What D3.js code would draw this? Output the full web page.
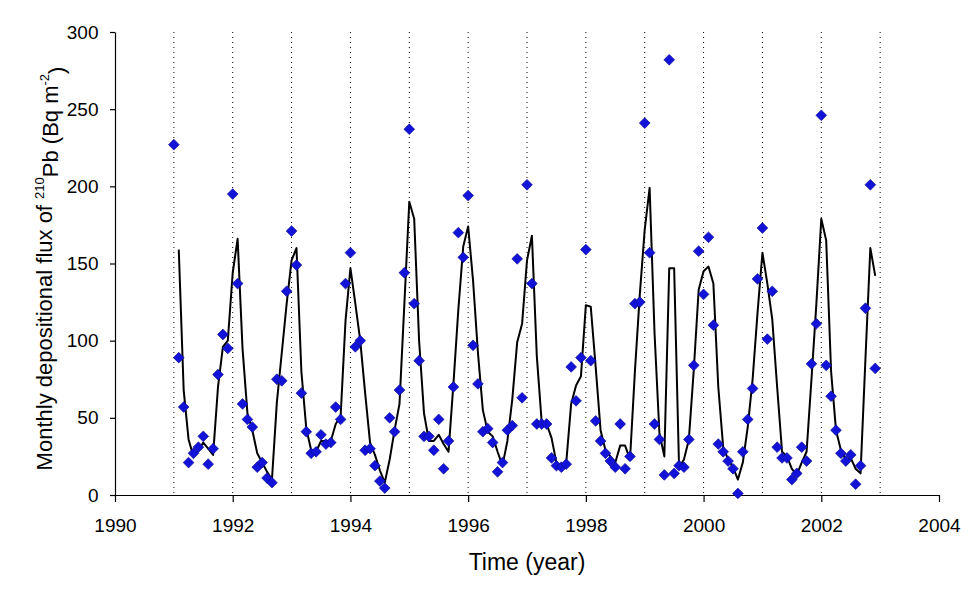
<!DOCTYPE html>
<html>
<head>
<meta charset="utf-8">
<script src="https://cdn.jsdelivr.net/npm/d3@7"></script>
<style>
  body { margin: 0; background: #fff; }
  text { font-family: "Liberation Sans", Arial, sans-serif; }
</style>
</head>
<body>
<div id="chart"></div>
<script>
// monthly samples start Jan 1991, one per month through Dec 2002
const startYear = 1991;

// measured monthly flux (diamonds), Jan..Dec per row
const measuredFlux = [
  227, 89, 57, 21, 27, 31, 38, 20, 30, 78, 104, 95,      // 1991
  195, 137, 59, 49, 44, 18, 21, 11, 8, 75, 74, 132,      // 1992
  171, 149, 66, 41, 27, 28, 39, 33, 34, 57, 49, 137,     // 1993
  157, 96, 100, 29, 30, 19, 9, 4.5, 50, 41, 68, 144,     // 1994
  237, 124, 87, 38, 38, 29, 49, 17, 35, 70, 170, 154,    // 1995
  194, 97, 72, 41, 43, 34, 15, 21, 42, 45, 153, 63,      // 1996
  201, 137, 46, 46, 46, 24, 19, 18, 20, 83, 61, 89,      // 1997
  159, 87, 48, 35, 27, 22, 18, 46, 17, 25, 124, 125,     // 1998
  241, 157, 46, 36, 13, 282, 14, 19, 18, 36, 84, 158,    // 1999
  130, 167, 110, 33, 28, 22, 17, 1, 28, 49, 69, 140,     // 2000
  173, 101, 132, 31, 24, 24, 10, 14, 31, 22, 85, 111,    // 2001
  246, 84, 64, 42, 27, 22, 26, 7, 19, 121, 201, 82       // 2002
];

// smoothed curve, starts Feb 1991
const smoothStart = 1;
const smoothFlux = [
  159, 68, 36, 25, 29, 34, 30, 26, 70, 96, 100,          // 1991 (Feb..Dec)
  144, 166, 95, 53, 42, 27, 21, 15, 10, 60, 92, 124,     // 1992
  152, 160, 80, 43, 29, 28, 35, 35, 35, 46, 51, 113,     // 1993
  147, 124, 100, 66, 34, 26, 16, 8, 23, 42, 59, 124,     // 1994
  190, 179, 100, 53, 35, 35, 39, 33, 28, 72, 120, 161,   // 1995
  174, 139, 92, 55, 41, 38, 28, 19, 35, 62, 99, 111,     // 1996
  152, 168, 90, 47, 46, 37, 21, 18, 21, 59, 71, 77,      // 1997
  123, 122, 83, 42, 29, 25, 21, 32, 32, 23, 80, 130,     // 1998
  172, 199, 105, 40, 25, 147, 147, 18, 23, 36, 81, 133,  // 1999
  145, 148, 137, 70, 31, 23, 18, 10, 21, 44, 75, 118,    // 2000
  157, 137, 114, 70, 28, 25, 17, 13, 21, 28, 75, 124,    // 2001
  179, 165, 80, 42, 29, 23, 24, 17, 14, 88, 160, 142     // 2002
];

const xTicks = [1990, 1992, 1994, 1996, 1998, 2000, 2002, 2004];
const yTicks = [0, 50, 100, 150, 200, 250, 300];
const gridYears = d3.range(1991, 2004);

const width = 979, height = 598;
const margin = { top: 32, right: 40, bottom: 103, left: 115 };

const svg = d3.select("#chart").append("svg")
  .attr("width", width)
  .attr("height", height);

const x = d3.scaleLinear().domain([1990, 2004]).range([margin.left, width - margin.right]);
const y = d3.scaleLinear().domain([0, 300]).range([height - margin.bottom, margin.top]);

const toYear = i => startYear + i / 12;

// dotted year lines
svg.append("g")
  .selectAll("line")
  .data(gridYears)
  .join("line")
  .attr("x1", d => x(d)).attr("x2", d => x(d))
  .attr("y1", y(300)).attr("y2", y(0))
  .attr("stroke", "#000")
  .attr("stroke-width", 1)
  .attr("stroke-dasharray", "1,4");

// axes
const xAxis = svg.append("g")
  .attr("transform", `translate(0,${y(0)})`)
  .call(d3.axisBottom(x).tickValues(xTicks).tickFormat(d3.format("d")).tickSize(7).tickSizeOuter(0));
const yAxis = svg.append("g")
  .attr("transform", `translate(${x(1990)},0)`)
  .call(d3.axisLeft(y).tickValues(yTicks).tickSize(5).tickSizeOuter(0));

[xAxis, yAxis].forEach(g => {
  g.select(".domain").attr("stroke", "#000").attr("stroke-width", 1.2);
  g.selectAll(".tick line").attr("stroke", "#000").attr("stroke-width", 1.2);
  g.selectAll(".tick text")
    .attr("fill", "#000")
    .style("font-size", "19px")
    .style("font-family", "'Liberation Sans', Arial, sans-serif");
});
xAxis.selectAll(".tick text").attr("dy", "1.4em");
yAxis.selectAll(".tick text").attr("dx", "-0.45em");

// smoothed line
const line = d3.line()
  .x((d, i) => x(toYear(i + smoothStart)))
  .y(d => y(d));

svg.append("path")
  .datum(smoothFlux)
  .attr("fill", "none")
  .attr("stroke", "#000")
  .attr("stroke-width", 2)
  .attr("stroke-linejoin", "round")
  .attr("d", line);

// diamonds
const diamond = d3.symbol().type(d3.symbolSquare).size(58);
svg.append("g")
  .selectAll("path")
  .data(measuredFlux)
  .join("path")
  .attr("d", diamond)
  .attr("transform", (d, i) => `translate(${x(toYear(i))},${y(d)}) rotate(45)`)
  .attr("fill", "#1212d8")
  .attr("stroke", "#0a0a90")
  .attr("stroke-width", 0.6);

// axis titles
svg.append("text")
  .attr("x", (x(1990) + x(2004)) / 2)
  .attr("y", 570)
  .attr("text-anchor", "middle")
  .style("font-size", "23px")
  .text("Time (year)");

const yTitle = svg.append("text")
  .attr("transform", `translate(52,${(y(0) + y(300)) / 2 + 5}) rotate(-90)`)
  .attr("text-anchor", "middle")
  .style("font-size", "22px");
yTitle.append("tspan").text("Monthly depositional flux of ");
yTitle.append("tspan").attr("dy", "-0.65em").style("font-size", "13px").text("210");
yTitle.append("tspan").attr("dy", "0.65em").text("Pb (Bq m");
yTitle.append("tspan").attr("dy", "-0.65em").style("font-size", "13px").text("-2");
yTitle.append("tspan").attr("dy", "0.65em").text(")");
</script>
</body>
</html>
